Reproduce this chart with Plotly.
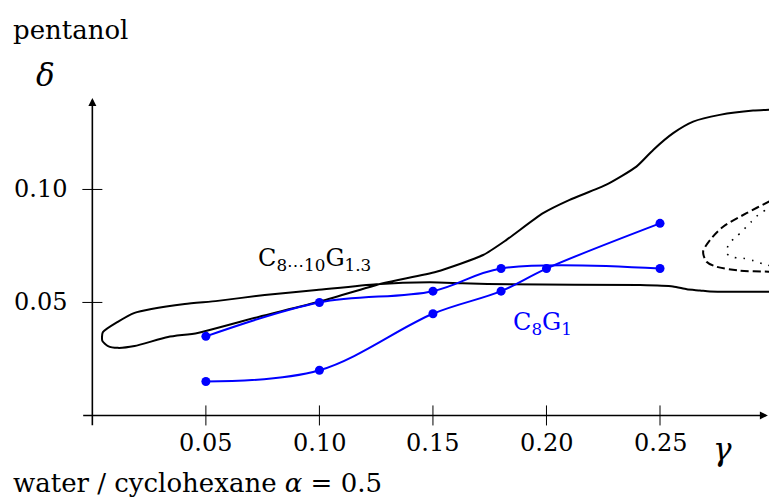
import plotly.graph_objects as go

# ---------------- data ----------------
# C8G1 measured series (blue)
c8g1_a_gamma = [0.05, 0.10, 0.15, 0.18, 0.25]
c8g1_a_delta = [0.035, 0.050, 0.055, 0.065, 0.065]
c8g1_b_gamma = [0.05, 0.10, 0.15, 0.18, 0.20, 0.25]
c8g1_b_delta = [0.015, 0.020, 0.045, 0.055, 0.065, 0.085]

# C8...10G1.3 phase boundary (black, solid)
bound_gamma = [0.305, 0.291, 0.2763, 0.2646, 0.2558, 0.247, 0.2396, 0.2264, 0.2102,
               0.1985, 0.1824, 0.1721, 0.1515, 0.128, 0.1002, 0.0732, 0.0464, 0.0333,
               0.0186, 0.0112, 0.0069, 0.0044, 0.0046, 0.0112, 0.0186, 0.026, 0.0407,
               0.0552, 0.0759, 0.0987, 0.1251, 0.1486, 0.163, 0.1838, 0.2412, 0.2557,
               0.2618, 0.2676, 0.272, 0.305]
bound_delta = [0.1355, 0.1349, 0.1330, 0.1300, 0.1249, 0.1175, 0.1101, 0.1021, 0.0954,
               0.0895, 0.0777, 0.0710, 0.0636, 0.0585, 0.0504, 0.0436, 0.0365, 0.0347,
               0.0307, 0.0299, 0.0307, 0.0330, 0.0368, 0.0414, 0.0454, 0.0471, 0.0493,
               0.0507, 0.0533, 0.0555, 0.0581, 0.0589, 0.0585, 0.0580, 0.0577, 0.0571,
               0.0558, 0.0553, 0.0548, 0.0548]

# dashed boundary
dash_gamma = [0.303, 0.2979, 0.2881, 0.2778, 0.2721, 0.2690, 0.2705, 0.2749, 0.2851, 0.2979, 0.303]
dash_delta = [0.0972, 0.0946, 0.0895, 0.0835, 0.0777, 0.0725, 0.0680, 0.0658, 0.0641, 0.0636, 0.0635]

# dotted boundary
dot_gamma = [0.303, 0.2979, 0.2932, 0.2903, 0.2837, 0.2805, 0.2793, 0.2822, 0.2866, 0.2910, 0.2954, 0.303]
dot_delta = [0.0940, 0.0917, 0.0887, 0.0858, 0.0791, 0.0762, 0.0718, 0.0700, 0.0696, 0.0685, 0.0670, 0.0652]

x_ticks = [0.05, 0.10, 0.15, 0.20, 0.25]
x_tick_labels = ["0.05", "0.10", "0.15", "0.20", "0.25"]
y_ticks = [0.05, 0.10]
y_tick_labels = ["0.05", "0.10"]

# axis extents (data units)
x_axis_span = [-0.0047, 0.2975]
y_axis_span = [-0.005, 0.1405]

# ---------------- layout geometry ----------------
W, H = 769, 497
XMIN, XMAX = -0.005, 0.298
YMIN, YMAX = -0.006, 0.1418
L, R, T, B = 81.35, 0, 95, 67.94

def px2paper_x(px):
    return (px - L) / (W - L - R)

def py2paper_y(py):
    return (H - B - py) / (H - T - B)

FONT = "DejaVu Serif"
FS = 24
BLUE = "#0000ff"

fig = go.Figure()

fig.add_trace(go.Scatter(x=bound_gamma, y=bound_delta, mode="lines",
                         line=dict(color="black", width=2, shape="spline", smoothing=0.6),
                         hoverinfo="skip", showlegend=False))
fig.add_trace(go.Scatter(x=dash_gamma, y=dash_delta, mode="lines",
                         line=dict(color="black", width=2, shape="spline", smoothing=0.8,
                                   dash="8px,4px"),
                         hoverinfo="skip", showlegend=False))
fig.add_trace(go.Scatter(x=dot_gamma, y=dot_delta, mode="lines",
                         line=dict(color="black", width=1.6, shape="spline", smoothing=0.8,
                                   dash="1.6px,7px"),
                         hoverinfo="skip", showlegend=False))
fig.add_trace(go.Scatter(x=c8g1_a_gamma, y=c8g1_a_delta, mode="lines+markers",
                         line=dict(color=BLUE, width=2, shape="spline", smoothing=1),
                         marker=dict(color=BLUE, size=9),
                         showlegend=False))
fig.add_trace(go.Scatter(x=c8g1_b_gamma, y=c8g1_b_delta, mode="lines+markers",
                         line=dict(color=BLUE, width=2, shape="spline", smoothing=1),
                         marker=dict(color=BLUE, size=9),
                         showlegend=False))

shapes = []
tick_half_x = 10 / 2270.0
tick_half_y = 10 / 2260.0
for xv in x_ticks:
    shapes.append(dict(type="line", xref="x", yref="y", x0=xv, x1=xv,
                       y0=-tick_half_y, y1=tick_half_y, line=dict(color="black", width=1)))
for yv in y_ticks:
    shapes.append(dict(type="line", xref="x", yref="y", y0=yv, y1=yv,
                       x0=-tick_half_x, x1=tick_half_x, line=dict(color="black", width=1)))

ann = []
# axes with arrow heads
ann.append(dict(x=x_axis_span[1], y=0, ax=x_axis_span[0], ay=0, xref="x", yref="y",
                axref="x", ayref="y", text="", showarrow=True, arrowhead=2, arrowsize=1,
                arrowwidth=1.6, arrowcolor="black", standoff=0, startstandoff=0))
ann.append(dict(x=0, y=y_axis_span[1], ax=0, ay=y_axis_span[0], xref="x", yref="y",
                axref="x", ayref="y", text="", showarrow=True, arrowhead=2, arrowsize=1,
                arrowwidth=1.6, arrowcolor="black", standoff=0, startstandoff=0))

for xv, lab in zip(x_ticks, x_tick_labels):
    ann.append(dict(x=xv, y=py2paper_y(443), xref="x", yref="paper", text=lab,
                    showarrow=False, xanchor="center", yanchor="middle",
                    font=dict(family=FONT, size=FS, color="black")))
for yv, lab in zip(y_ticks, y_tick_labels):
    ann.append(dict(x=px2paper_x(69), y=yv, xref="paper", yref="y", text=lab,
                    showarrow=False, xanchor="right", yanchor="middle",
                    font=dict(family=FONT, size=FS, color="black")))

ann.append(dict(x=px2paper_x(11), y=py2paper_y(30), xref="paper", yref="paper",
                text="pentanol", showarrow=False, xanchor="left", yanchor="middle",
                font=dict(family=FONT, size=26, color="black")))
ann.append(dict(x=px2paper_x(46), y=py2paper_y(75), xref="paper", yref="paper",
                text="<i>δ</i>", showarrow=False, xanchor="center", yanchor="middle",
                font=dict(family=FONT, size=31, color="black")))
ann.append(dict(x=px2paper_x(723), y=py2paper_y(449), xref="paper", yref="paper",
                text="<i>γ</i>", showarrow=False, xanchor="center", yanchor="middle",
                font=dict(family=FONT, size=31, color="black")))
ann.append(dict(x=px2paper_x(11), y=py2paper_y(483), xref="paper", yref="paper",
                text="water / cyclohexane <i>α</i> = 0.5", showarrow=False,
                xanchor="left", yanchor="middle",
                font=dict(family=FONT, size=26, color="black")))
ann.append(dict(x=px2paper_x(256), y=py2paper_y(260), xref="paper", yref="paper",
                text="C<sub>8⋯10</sub>G<sub>1.3</sub>", showarrow=False,
                xanchor="left", yanchor="middle",
                font=dict(family=FONT, size=FS, color="black")))
ann.append(dict(x=px2paper_x(511), y=py2paper_y(324), xref="paper", yref="paper",
                text="C<sub>8</sub>G<sub>1</sub>", showarrow=False,
                xanchor="left", yanchor="middle",
                font=dict(family=FONT, size=FS, color=BLUE)))

fig.update_layout(
    width=W, height=H,
    margin=dict(l=L, r=R, t=T, b=B, pad=0),
    paper_bgcolor="white", plot_bgcolor="white",
    xaxis=dict(range=[XMIN, XMAX], showgrid=False, zeroline=False, showline=False,
               showticklabels=False, ticks=""),
    yaxis=dict(range=[YMIN, YMAX], showgrid=False, zeroline=False, showline=False,
               showticklabels=False, ticks=""),
    shapes=shapes, annotations=ann, showlegend=False,
)

fig.write_html("out.html")
